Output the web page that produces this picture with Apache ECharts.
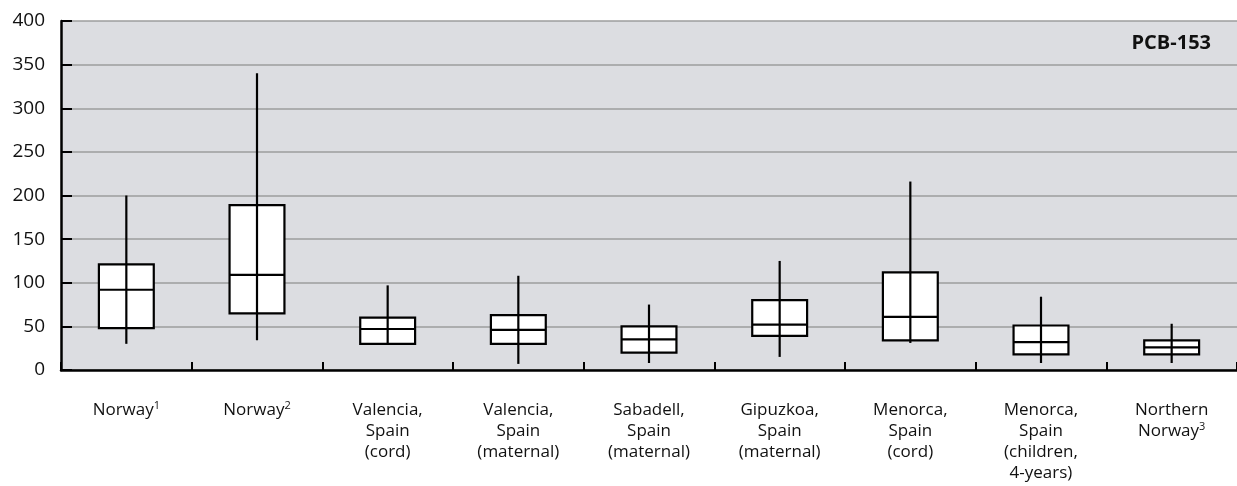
<!DOCTYPE html>
<html>
<head>
<meta charset="utf-8">
<script src="https://cdn.jsdelivr.net/npm/echarts@6/dist/echarts.min.js"></script>
<style>
  html, body { margin: 0; padding: 0; background: #ffffff; }
  #chart { width: 1237px; height: 486px; }
</style>
</head>
<body>
<div id="chart"></div>
<script>
// Study populations along the x axis
const categories = [
  'Norway{sup|1}',
  'Norway{sup|2}',
  'Valencia,\nSpain\n(cord)',
  'Valencia,\nSpain\n(maternal)',
  'Sabadell,\nSpain\n(maternal)',
  'Gipuzkoa,\nSpain\n(maternal)',
  'Menorca,\nSpain\n(cord)',
  'Menorca,\nSpain\n(children,\n4-years)',
  'Northern\nNorway{sup|3}'
];

// PCB-153 distribution per study
const whiskerLow  = [30, 34, 29, 7, 8, 15, 31, 8, 8];
const quartile1   = [48, 65, 30, 30, 20, 39, 34, 18, 18];
const medians     = [92, 109, 47, 46, 35, 52, 61, 32, 26];
const quartile3   = [121, 189, 60, 63, 50, 80, 112, 51, 34];
const whiskerHigh = [200, 340, 97, 108, 75, 125, 216, 84, 53];

const yTicks = [0, 50, 100, 150, 200, 250, 300, 350, 400];

const boxData = categories.map((c, i) => [
  i, whiskerLow[i], quartile1[i], medians[i], quartile3[i], whiskerHigh[i]
]);

const FONT = '"Open Sans", "Noto Sans", sans-serif';

function renderBox(params, api) {
  const idx = api.value(0);
  const x = api.coord([idx, 0])[0];
  const yLow = api.coord([idx, api.value(1)])[1];
  const yQ1 = api.coord([idx, api.value(2)])[1];
  const yMed = api.coord([idx, api.value(3)])[1];
  const yQ3 = api.coord([idx, api.value(4)])[1];
  const yHigh = api.coord([idx, api.value(5)])[1];
  const half = api.size([1, 0])[0] * 0.21;
  const stroke = { stroke: '#000000', lineWidth: 2.2 };
  return {
    type: 'group',
    children: [
      {
        type: 'rect',
        shape: { x: x - half, y: yQ3, width: half * 2, height: yQ1 - yQ3 },
        style: { fill: '#ffffff', stroke: '#000000', lineWidth: 2.2 }
      },
      {
        type: 'line',
        shape: { x1: x - half, y1: yMed, x2: x + half, y2: yMed },
        style: stroke
      },
      {
        type: 'line',
        shape: { x1: x, y1: yLow, x2: x, y2: yHigh },
        style: stroke
      }
    ]
  };
}

const chart = echarts.init(document.getElementById('chart'), null, { renderer: 'canvas' });

chart.setOption({
  animation: false,
  backgroundColor: '#ffffff',
  grid: {
    left: 61, right: -8, top: 21, bottom: 116,
    show: true, backgroundColor: '#dcdde1', borderWidth: 0
  },
  xAxis: {
    type: 'category',
    data: categories,
    boundaryGap: true,
    axisLine: { show: true, lineStyle: { color: '#000000', width: 2.5 } },
    axisTick: { show: true, inside: true, length: 8, lineStyle: { color: '#000000', width: 2 } },
    splitLine: { show: false },
    axisLabel: {
      interval: 0,
      margin: 30,
      color: '#111111',
      fontFamily: FONT,
      fontSize: 17,
      lineHeight: 21,
      align: 'center',
      rich: {
        sup: { fontSize: 11, fontFamily: FONT, color: '#111111', verticalAlign: 'top', lineHeight: 21 }
      }
    }
  },
  yAxis: {
    type: 'value',
    min: 0,
    max: 400,
    interval: 50,
    axisLine: { show: true, lineStyle: { color: '#000000', width: 2.5 } },
    axisTick: { show: true, inside: true, length: 11, lineStyle: { color: '#000000', width: 2 } },
    splitLine: { show: true, lineStyle: { color: '#9c9c9c', width: 1.5 } },
    axisLabel: {
      margin: 16,
      color: '#111111',
      fontFamily: FONT,
      fontSize: 19,
      formatter: v => (yTicks.indexOf(v) >= 0 ? String(v) : '')
    }
  },
  graphic: [
    {
      type: 'text',
      right: 26,
      top: 33,
      style: {
        text: 'PCB-153',
        fontFamily: FONT,
        fontWeight: 'bold',
        fontSize: 20,
        fill: '#111111'
      }
    }
  ],
  series: [
    {
      type: 'custom',
      name: 'PCB-153',
      renderItem: renderBox,
      encode: { x: 0, y: [1, 2, 3, 4, 5] },
      data: boxData,
      z: 5
    }
  ]
});
</script>
</body>
</html>
